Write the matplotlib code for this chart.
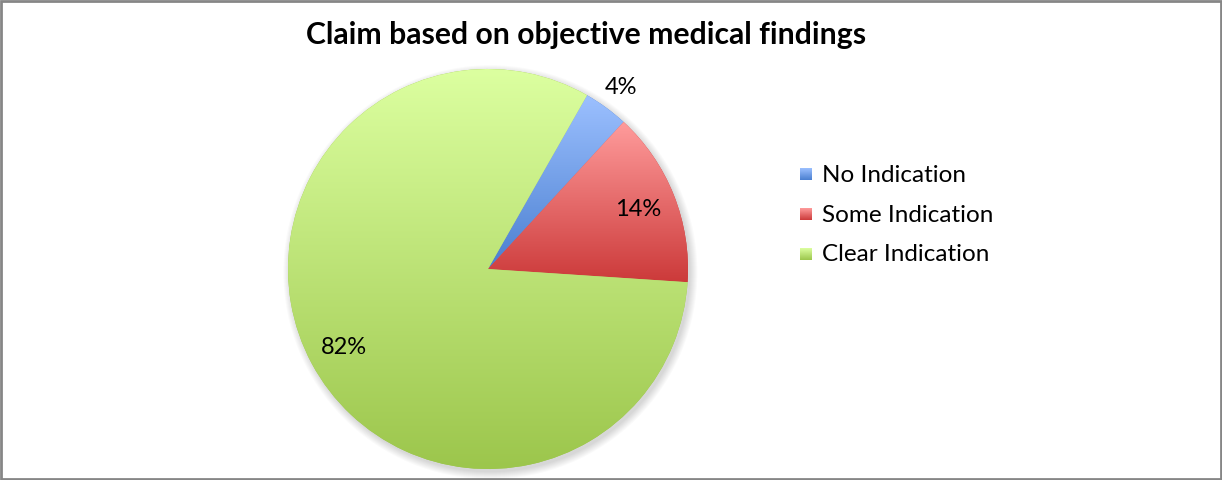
import numpy as np
import matplotlib
matplotlib.use("Agg")
import matplotlib.pyplot as plt
from matplotlib.patches import Rectangle, Circle
from matplotlib.colors import to_rgb

# ---- data ----
categories = ["No Indication", "Some Indication", "Clear Indication"]
shares = [3.6, 14.2, 82.2]
pct_labels = ["4%", "14%", "82%"]
title = "Claim based on objective medical findings"

# ---- style ----
top_colors = ["#9cc0ff", "#ff9c9c", "#dcffa0"]
bottom_colors = ["#4a7fd0", "#cc3a3a", "#9cc64c"]
label_dist = [1.13, 0.81, 0.82]
FONT = "Lato"

W, H = 1222, 481
fig = plt.figure(figsize=(W / 100, H / 100), dpi=100)
fig.patch.set_facecolor("white")

cx, cy, R = 488, 270, 200
ax = fig.add_axes([(cx - R) / W, (H - cy - R) / H, 2 * R / W, 2 * R / H])


def grad(c_top, c_bot, n=256):
    t = np.linspace(0, 1, n)[:, None, None]
    a = np.array(to_rgb(c_top))[None, None, :]
    b = np.array(to_rgb(c_bot))[None, None, :]
    return a * (1 - t) + b * t


# shadow
for i in range(8):
    ax.add_patch(Circle((0.012, -0.016), 1.0 + i * 0.005, facecolor="black",
                        edgecolor="none", alpha=0.02, zorder=0))

wedges, _ = ax.pie(shares, startangle=60.3, counterclock=False, radius=1,
                   wedgeprops=dict(linewidth=0))

for w, ct, cb in zip(wedges, top_colors, bottom_colors):
    w.set_facecolor(cb)
    w.set_zorder(1)
    ts = np.radians(np.linspace(w.theta1, w.theta2, 400))
    xs = np.concatenate([[0], np.cos(ts)])
    ys = np.concatenate([[0], np.sin(ts)])
    im = ax.imshow(grad(ct, cb), extent=(xs.min(), xs.max(), ys.min(), ys.max()),
                   origin="upper", aspect="auto", zorder=2, interpolation="bilinear")
    im.set_clip_path(w)

for w, lab, d in zip(wedges, pct_labels, label_dist):
    th = np.radians((w.theta1 + w.theta2) / 2)
    ax.text(d * np.cos(th), d * np.sin(th), lab, ha="center", va="center",
            fontsize=17, family=FONT, zorder=5)

ax.set_xlim(-1.05, 1.05)
ax.set_ylim(-1.05, 1.05)
ax.set_position([(cx - R * 1.05) / W, (H - cy - R * 1.05) / H, 2.1 * R / W, 2.1 * R / H])
ax.set_aspect("equal")
ax.axis("off")

# title
fig.text(586 / W, 1 - 35 / H, title, ha="center", va="center",
         fontsize=21.7, fontweight="bold", family=FONT)

# legend
leg_y = [175, 215, 255]
for name, ct, cb, y in zip(categories, top_colors, bottom_colors, leg_y):
    lax = fig.add_axes([800 / W, 1 - (y + 6) / H, 12 / W, 12 / H])
    lax.imshow(grad(ct, cb), aspect="auto", extent=(0, 1, 0, 1), interpolation="bilinear")
    lax.axis("off")
    fig.text(822 / W, 1 - y / H, name, ha="left", va="center",
             fontsize=17.5, family=FONT)

# border
fig.patches.append(Rectangle((1 / W, 1.5 / H), (W - 2.5) / W, (H - 3) / H,
                             transform=fig.transFigure, fill=False,
                             edgecolor="#868686", linewidth=2))

fig.savefig("out.png", dpi=100)
